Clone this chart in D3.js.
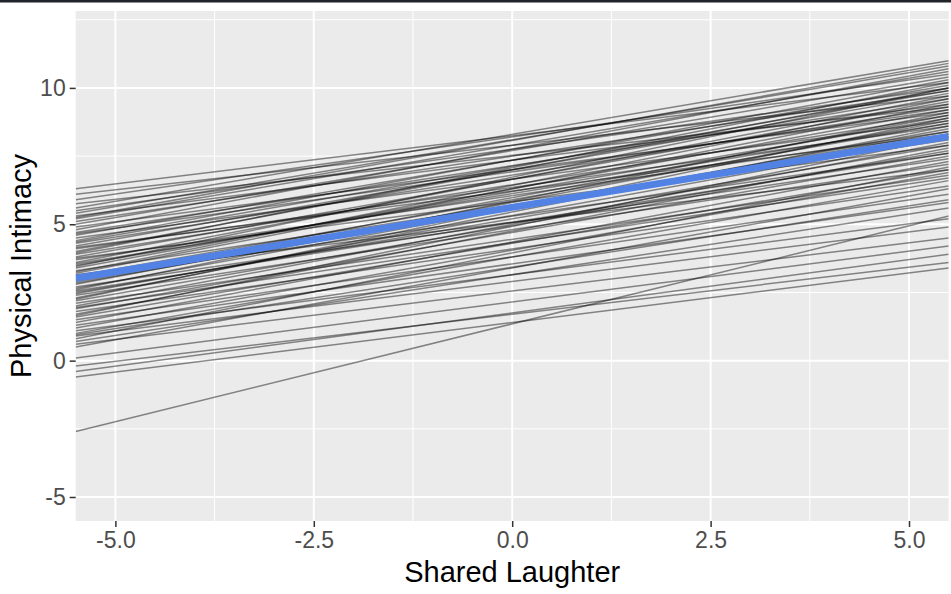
<!DOCTYPE html>
<html>
<head>
<meta charset="utf-8">
<script src="https://cdn.jsdelivr.net/npm/d3@7"></script>
<style>
  html, body { margin: 0; padding: 0; background: #ffffff; }
  svg { display: block; }
</style>
</head>
<body>
<svg id="chart" width="951" height="594"></svg>
<script>
// ---- Data ----
// Each grey line: value at the left edge (x = -5.5) and at the right edge (x = 5.5)
const lineStart = [6.3, 6.1, 5.9, 5.6, 5.5, 5.4, 5.3, 5.2, 5.1, 5.0,
  4.9, 4.8, 4.7, 4.6, 4.5, 4.4, 4.3, 4.2, 4.1, 4.0,
  3.9, 3.8, 3.7, 3.6, 3.5, 3.4, 3.3, 3.2, 3.1, 3.0,
  2.95, 2.9, 2.8, 2.7, 2.65, 2.6, 2.5, 2.45, 2.4, 2.3,
  2.2, 2.1, 2.0, 1.9, 1.8, 1.7, 1.6, 1.5, 1.4, 1.3,
  1.2, 1.1, 1.0, 0.9, 0.8, 0.7, 0.6, 0.5, 0.1, -0.2,
  -0.4, -0.6, -2.6, 4.35, 3.95, 3.55, 3.25, 2.85, 4.65, 5.25,
  3.75, 2.55, 1.95, 4.15, 3.45, 2.25, 1.65, 5.75, 0.95, 3.15];
const lineEnd = [10.2, 9.7, 10.5, 11.0, 10.0, 10.8, 9.4, 10.6, 9.9, 10.4,
  9.1, 10.7, 9.6, 10.1, 8.8, 10.3, 9.3, 9.8, 8.6, 10.0,
  9.0, 9.5, 8.4, 9.7, 8.9, 9.2, 8.1, 9.4, 8.7, 7.6,
  9.0, 8.3, 8.8, 7.4, 8.5, 9.1, 7.9, 8.2, 7.2, 8.6,
  7.7, 6.8, 8.0, 7.5, 6.4, 7.8, 7.0, 6.1, 7.3, 5.8,
  6.9, 5.2, 6.6, 4.9, 7.1, 5.6, 4.5, 6.3, 4.2, 3.6,
  3.9, 3.4, 5.3, 9.9, 10.2, 8.7, 9.6, 8.4, 9.2, 10.9,
  7.9, 7.6, 6.7, 8.3, 10.0, 8.9, 8.2, 9.3, 5.9, 7.0];
// Average line (blue)
const meanStart = 3.02;
const meanEnd = 8.22;
const lineXRange = [-5.5, 5.5];

const xTicks = [-5.0, -2.5, 0.0, 2.5, 5.0];
const xMinor = [-3.75, -1.25, 1.25, 3.75];
const yTicks = [-5, 0, 5, 10];
const yMinor = [-2.5, 2.5, 7.5, 12.5];
const xTitle = "Shared Laughter";
const yTitle = "Physical Intimacy";

// ---- Layout ----
const svg = d3.select("#chart");
const W = 951, H = 594;
const panel = {left: 75.7, right: 948.7, top: 11, bottom: 521};

// top dark strip
svg.append("rect").attr("x", 0).attr("y", 0).attr("width", W).attr("height", 2.5).attr("fill", "#1f232a");

const x = d3.scaleLinear().domain([-5.5, 5.5]).range([panel.left, panel.right]);
const y = d3.scaleLinear().domain([-5.88, 12.82]).range([panel.bottom, panel.top]);

svg.append("rect")
  .attr("x", panel.left).attr("y", panel.top)
  .attr("width", panel.right - panel.left).attr("height", panel.bottom - panel.top)
  .attr("fill", "#EBEBEB");

const g = svg.append("g");
// minor grid
g.selectAll(".xminor").data(xMinor).enter().append("line")
  .attr("x1", d => x(d)).attr("x2", d => x(d))
  .attr("y1", panel.top).attr("y2", panel.bottom)
  .attr("stroke", "#fff").attr("stroke-width", 1);
g.selectAll(".yminor").data(yMinor).enter().append("line")
  .attr("y1", d => y(d)).attr("y2", d => y(d))
  .attr("x1", panel.left).attr("x2", panel.right)
  .attr("stroke", "#fff").attr("stroke-width", 1);
// major grid
g.selectAll(".xmajor").data(xTicks).enter().append("line")
  .attr("x1", d => x(d)).attr("x2", d => x(d))
  .attr("y1", panel.top).attr("y2", panel.bottom)
  .attr("stroke", "#fff").attr("stroke-width", 2);
g.selectAll(".ymajor").data(yTicks).enter().append("line")
  .attr("y1", d => y(d)).attr("y2", d => y(d))
  .attr("x1", panel.left).attr("x2", panel.right)
  .attr("stroke", "#fff").attr("stroke-width", 2);

// clip
svg.append("clipPath").attr("id", "clip").append("rect")
  .attr("x", panel.left).attr("y", panel.top)
  .attr("width", panel.right - panel.left).attr("height", panel.bottom - panel.top);

const lines = lineStart.map((s, i) => [[lineXRange[0], s], [lineXRange[1], lineEnd[i]]]);
const lineGen = d3.line().x(d => x(d[0])).y(d => y(d[1]));

const lg = svg.append("g").attr("clip-path", "url(#clip)");
lg.selectAll(".sub").data(lines).enter().append("path")
  .attr("d", lineGen)
  .attr("fill", "none")
  .attr("stroke", "#000")
  .attr("stroke-opacity", 0.45)
  .attr("stroke-width", 1.5);

lg.append("path")
  .datum([[lineXRange[0], meanStart], [lineXRange[1], meanEnd]])
  .attr("d", lineGen)
  .attr("fill", "none")
  .attr("stroke", "#5282E3")
  .attr("stroke-width", 7);

// axes (ASCII hyphen as minus sign, as in the reference)
const fmtX = d => d3.format(".1f")(d).replace("\u2212", "-");
const fmtY = d => d3.format("d")(d).replace("\u2212", "-");
const xAxis = d3.axisBottom(x).tickValues(xTicks).tickFormat(fmtX).tickSize(6).tickPadding(5);
const yAxis = d3.axisLeft(y).tickValues(yTicks).tickFormat(fmtY).tickSize(6).tickPadding(4);

const gx = svg.append("g").attr("transform", `translate(0,${panel.bottom})`).call(xAxis);
const gy = svg.append("g").attr("transform", `translate(${panel.left},0)`).call(yAxis);
[gx, gy].forEach(a => {
  a.select(".domain").remove();
  a.selectAll(".tick line").attr("stroke", "#333").attr("stroke-width", 1.5);
  a.selectAll(".tick text")
    .attr("fill", "#4D4D4D")
    .style("font-family", "'Liberation Sans', Arial, sans-serif")
    .style("font-size", "23px");
});

svg.append("text")
  .attr("x", (panel.left + panel.right) / 2)
  .attr("y", 582)
  .attr("text-anchor", "middle")
  .attr("fill", "#000")
  .style("font-family", "'Liberation Sans', Arial, sans-serif")
  .style("font-size", "29px")
  .text(xTitle);

svg.append("text")
  .attr("transform", `translate(31,${(panel.top + panel.bottom) / 2}) rotate(-90)`)
  .attr("text-anchor", "middle")
  .attr("fill", "#000")
  .style("font-family", "'Liberation Sans', Arial, sans-serif")
  .style("font-size", "29px")
  .text(yTitle);
</script>
</body>
</html>
